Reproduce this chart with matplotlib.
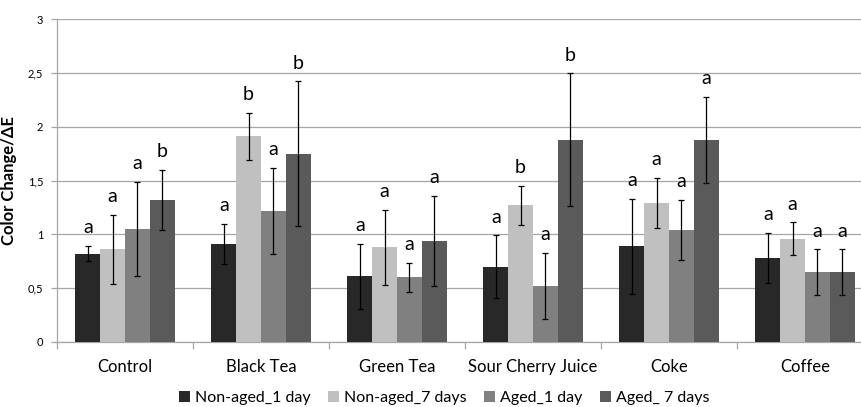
import matplotlib
matplotlib.use("Agg")
import matplotlib.pyplot as plt
import numpy as np
from matplotlib.ticker import FuncFormatter, MultipleLocator, FixedLocator

plt.rcParams['font.family'] = ['Lato', 'DejaVu Sans']

categories = ["Control", "Black Tea", "Green Tea", "Sour Cherry Juice", "Coke", "Coffee"]
series_names = ["Non-aged_1 day", "Non-aged_7 days", "Aged_1 day", "Aged_ 7 days"]

nonaged_1 = [0.82, 0.91, 0.61, 0.70, 0.89, 0.78]
nonaged_7 = [0.86, 1.91, 0.88, 1.27, 1.29, 0.96]
aged_1 = [1.05, 1.22, 0.60, 0.52, 1.04, 0.65]
aged_7 = [1.32, 1.75, 0.94, 1.88, 1.88, 0.65]

err_nonaged_1 = [0.07, 0.19, 0.30, 0.29, 0.44, 0.235]
err_nonaged_7 = [0.32, 0.22, 0.35, 0.18, 0.235, 0.15]
err_aged_1 = [0.44, 0.40, 0.135, 0.31, 0.28, 0.21]
err_aged_7 = [0.28, 0.67, 0.42, 0.615, 0.40, 0.21]

letters_nonaged_1 = ["a", "a", "a", "a", "a", "a"]
letters_nonaged_7 = ["a", "b", "a", "b", "a", "a"]
letters_aged_1 = ["a", "a", "a", "a", "a", "a"]
letters_aged_7 = ["b", "b", "a", "b", "a", "a"]

values = [nonaged_1, nonaged_7, aged_1, aged_7]
errors = [err_nonaged_1, err_nonaged_7, err_aged_1, err_aged_7]
letters = [letters_nonaged_1, letters_nonaged_7, letters_aged_1, letters_aged_7]
colors = ["#282828", "#c0c0c0", "#808080", "#5a5a5a"]

fig = plt.figure(figsize=(8.62, 4.07), dpi=100)
ax = fig.add_axes([57/862, 65/407, 805/862, 323/407])

x = np.arange(len(categories))
bw = 0.182
offsets = (np.arange(4) - 1.5) * bw
for i in range(4):
    ax.bar(x + offsets[i], values[i], bw, color=colors[i], label=series_names[i], zorder=3,
           yerr=errors[i], error_kw=dict(ecolor="black", elinewidth=0.9, capsize=2.5, capthick=0.9, zorder=4))
    for j in range(len(categories)):
        top = values[i][j] + errors[i][j]
        ax.annotate(letters[i][j], (x[j] + offsets[i], top), xytext=(0, 7), textcoords="offset points",
                    ha="center", va="bottom", fontsize=14, color="black")

ax.set_xlim(-0.5, -0.5 + 805/136)
ax.set_ylim(0, 3)
ax.yaxis.set_major_locator(MultipleLocator(0.5))
ax.yaxis.set_major_formatter(FuncFormatter(lambda v, p: ("%g" % v).replace(".", ",")))
ax.grid(axis="y", color="#a6a6a6", linewidth=0.9, zorder=0)
ax.set_axisbelow(True)
for s in ["top", "right"]:
    ax.spines[s].set_visible(False)
for s in ["left", "bottom"]:
    ax.spines[s].set_color("#a6a6a6")
    ax.spines[s].set_linewidth(0.9)

ax.set_xticks(x)
ax.set_xticklabels(categories, fontsize=12)
ax.tick_params(axis="x", which="major", length=0, pad=12)
ax.xaxis.set_minor_locator(FixedLocator(np.arange(-0.5, 6, 1.0)))
ax.tick_params(axis="x", which="minor", length=5, color="#a6a6a6", width=0.9)
ax.tick_params(axis="y", labelsize=8, length=4, color="#a6a6a6", width=0.9, pad=6)

ax.set_ylabel("Color Change/ΔE", fontsize=12, fontweight="bold")
ax.yaxis.set_label_coords(-40/805, 0.5)

leg = fig.legend(loc="center", bbox_to_anchor=(0.515, 0.022), ncol=4, frameon=False, fontsize=11.5,
                 handlelength=0.7, handleheight=0.7, handletextpad=0.3, columnspacing=1.1)

fig.savefig("out.png", dpi=100)
